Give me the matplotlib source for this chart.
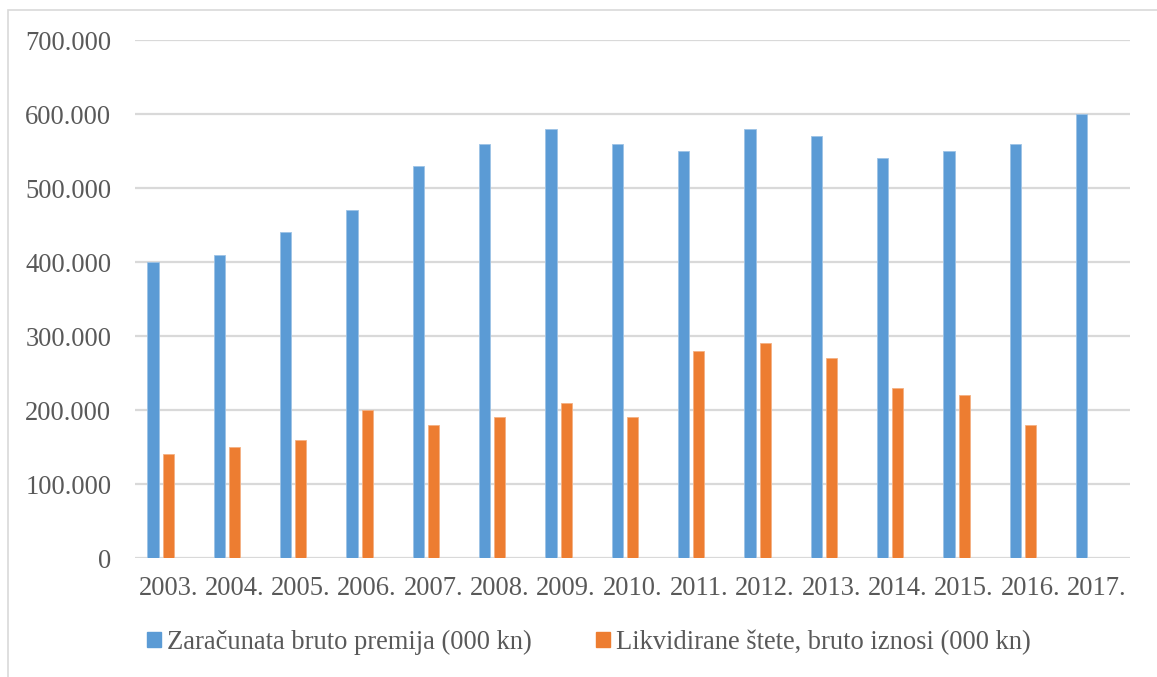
import numpy as np
import matplotlib
matplotlib.use("Agg")
import matplotlib.pyplot as plt
from matplotlib.patches import Rectangle, Patch

years = ["2003.", "2004.", "2005.", "2006.", "2007.", "2008.", "2009.", "2010.",
         "2011.", "2012.", "2013.", "2014.", "2015.", "2016.", "2017."]
premija = [400000, 410000, 440000, 470000, 530000, 560000, 580000, 560000,
           550000, 580000, 570000, 540000, 550000, 560000, 600000]
stete = [140000, 150000, 160000, 200000, 180000, 190000, 210000, 190000,
         280000, 290000, 270000, 230000, 220000, 180000, np.nan]
yticks = [0, 100000, 200000, 300000, 400000, 500000, 600000, 700000]
series_names = ["Zaračunata bruto premija (000 kn)",
                "Likvidirane štete, bruto iznosi (000 kn)"]

BLUE = "#5B9BD5"
ORANGE = "#ED7D31"
GRID = "#D9D9D9"
TEXT = "#595959"
FS = 19.1

plt.rcParams["font.family"] = ["Liberation Serif", "DejaVu Serif"]

W, H = 1157, 677
fig = plt.figure(figsize=(W / 100, H / 100), dpi=100)

# outer chart frame (cropped at right and bottom like the original)
fig.patches.append(Rectangle((8 / W, -0.05), 1.1, 1 - 10 / H + 0.05,
                             transform=fig.transFigure, fill=False,
                             edgecolor=GRID, linewidth=1.2))

ax = fig.add_axes([135 / W, 1 - 558 / H, (1130 - 135) / W, (558 - 40) / H])

x = np.arange(len(years))
bw = 0.17
ax.bar(x - 0.23, premija, width=bw, color=BLUE, edgecolor="#9DC3E6", linewidth=0.6)
ax.bar(x, stete, width=bw, color=ORANGE, edgecolor="#F4B183", linewidth=0.6)

ax.set_xlim(-0.5, len(years) - 0.5)
ax.set_ylim(0, 700000)
ax.set_yticks(yticks)
ax.set_yticklabels(["0"] + [f"{v // 1000}.000" for v in yticks[1:]])
ax.set_xticks(x)
ax.set_xticklabels(years)

ax.grid(axis="y", color=GRID, linewidth=1.6)
ax.set_axisbelow(True)
for s in ax.spines.values():
    s.set_visible(False)
ax.tick_params(axis="both", length=0, labelsize=FS, labelcolor=TEXT)
ax.tick_params(axis="y", pad=17)
ax.tick_params(axis="x", pad=13)

handles = [Patch(color=BLUE), Patch(color=ORANGE)]
fig.legend(handles, series_names, loc="center", ncol=2,
           bbox_to_anchor=(589 / W, 1 - 642 / H), frameon=False,
           fontsize=FS, labelcolor=TEXT, handlelength=0.5, handleheight=0.5,
           handletextpad=0.23, columnspacing=2.45)

fig.savefig("out.png", dpi=100)
